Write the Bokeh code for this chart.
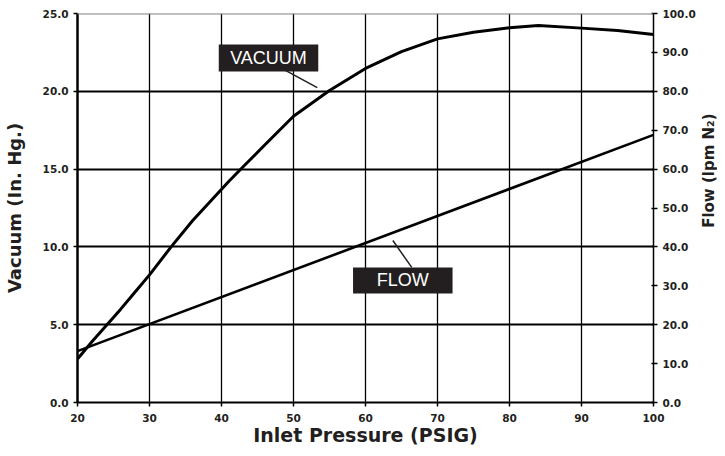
from bokeh.plotting import figure
from bokeh.models import Range1d, LinearAxis, FixedTicker, Span, Label, PrintfTickFormatter
from bokeh.layouts import row
from bokeh.embed import file_html
from bokeh.resources import INLINE
import math

# ---- data ----
pressure = [20, 22, 24, 26, 28, 30, 33, 36, 38.5, 41, 43, 46, 50, 55, 60, 65, 70, 75, 80, 84, 90, 95, 100]
vacuum = [2.8, 3.9, 4.95, 6.0, 7.1, 8.2, 10.0, 11.7, 12.95, 14.2, 15.15, 16.55, 18.4, 20.05, 21.47, 22.55,
          23.37, 23.8, 24.08, 24.23, 24.06, 23.9, 23.65]
flow_pressure = [20, 100]
flow = [13.2, 68.8]

x_ticks = [20, 30, 40, 50, 60, 70, 80, 90, 100]
vac_ticks = [0, 5, 10, 15, 20, 25]
flow_ticks = [0, 10, 20, 30, 40, 50, 60, 70, 80, 90, 100]

INK = "#231f20"
FONT = "DejaVu Sans"
W_MAIN, W_SIDE, H = 698, 19, 448

p = figure(width=W_MAIN, height=H, x_range=Range1d(20, 100), y_range=Range1d(0, 25),
           output_backend="svg", toolbar_location=None, title=None,
           min_border_left=76, min_border_right=43, min_border_top=13, min_border_bottom=46)
p.outline_line_color = None
p.background_fill_color = "white"
p.border_fill_color = "white"
p.extra_y_ranges = {"flow": Range1d(0, 100)}

# grids
p.xgrid.ticker = FixedTicker(ticks=[30, 40, 50, 60, 70, 80, 90])
p.xgrid.grid_line_color = "black"
p.xgrid.grid_line_width = 1.3
p.ygrid.ticker = FixedTicker(ticks=[5, 10, 15, 20])
p.ygrid.grid_line_color = "black"
p.ygrid.grid_line_width = 2

p.add_layout(Span(location=25, dimension="width", line_color="#808080", line_width=2))

# axes
bottom = p.xaxis[0]
left = p.yaxis[0]
bottom.ticker = FixedTicker(ticks=x_ticks)
left.ticker = FixedTicker(ticks=vac_ticks)
left.formatter = PrintfTickFormatter(format="%.1f")
right = LinearAxis(y_range_name="flow", ticker=FixedTicker(ticks=flow_ticks),
                   formatter=PrintfTickFormatter(format="%.1f"))
p.add_layout(right, "right")

for ax, lw in ((bottom, 2), (left, 2.5), (right, 1.5)):
    ax.axis_line_color = "black"
    ax.axis_line_width = lw
    ax.major_tick_line_color = "black"
    ax.major_tick_line_width = 1.5
    ax.major_tick_out = 4
    ax.major_tick_in = 0
    ax.minor_tick_line_color = None
    ax.major_label_text_font = FONT
    ax.major_label_text_font_style = "bold"
    ax.major_label_text_font_size = "10.5px"
    ax.major_label_text_color = INK
    ax.major_label_standoff = 5
    ax.axis_label_text_font = FONT
    ax.axis_label_text_font_style = "bold"
    ax.axis_label_text_color = INK
right.major_tick_in = 2

bottom.axis_label = "Inlet Pressure (PSIG)"
bottom.axis_label_text_font_size = "19px"
bottom.major_label_standoff = 7
bottom.axis_label_standoff = -1

left.axis_label = "Vacuum (In. Hg.)"
left.axis_label_text_font_size = "18px"
left.axis_label_standoff = 15

# series
p.line(pressure, vacuum, line_color="black", line_width=3)
p.line(flow_pressure, flow, y_range_name="flow", line_color="black", line_width=2.6)

# callouts
p.segment(x0=[48.88, 63.80], y0=[21.34, 10.41], x1=[53.30, 66.42], y1=[20.24, 8.68],
          line_color=INK, line_width=1.5)
p.quad(left=[39.62, 58.27], right=[53.44, 72.09], top=[23.01, 8.68], bottom=[21.27, 7.01],
       fill_color=INK, line_color=None)
for txt, cx, cy in (("VACUUM", 46.53, 22.14), ("FLOW", 65.18, 7.845)):
    p.add_layout(Label(x=cx, y=cy, text=txt, text_color="white", text_font="Liberation Sans",
                       text_font_size="18px", text_align="center", text_baseline="middle"))

# right-hand axis title in a narrow strip (pixel-like coordinates)
side = figure(width=W_SIDE, height=H, x_range=Range1d(W_MAIN, W_MAIN + W_SIDE), y_range=Range1d(H, 0),
              output_backend="svg", toolbar_location=None, title=None,
              x_axis_type=None, y_axis_type=None,
              min_border_left=0, min_border_right=0, min_border_top=0, min_border_bottom=0)
side.outline_line_color = None
side.xgrid.visible = False
side.ygrid.visible = False
side.add_layout(Label(x=708, y=181, text="Flow (lpm N\u2082)", text_font=FONT, text_font_style="bold",
                      text_font_size="15px", text_color=INK, angle=math.pi / 2,
                      text_align="center", text_baseline="alphabetic"))

layout = row(p, side)
open("out.html", "w").write(file_html(layout, INLINE))
